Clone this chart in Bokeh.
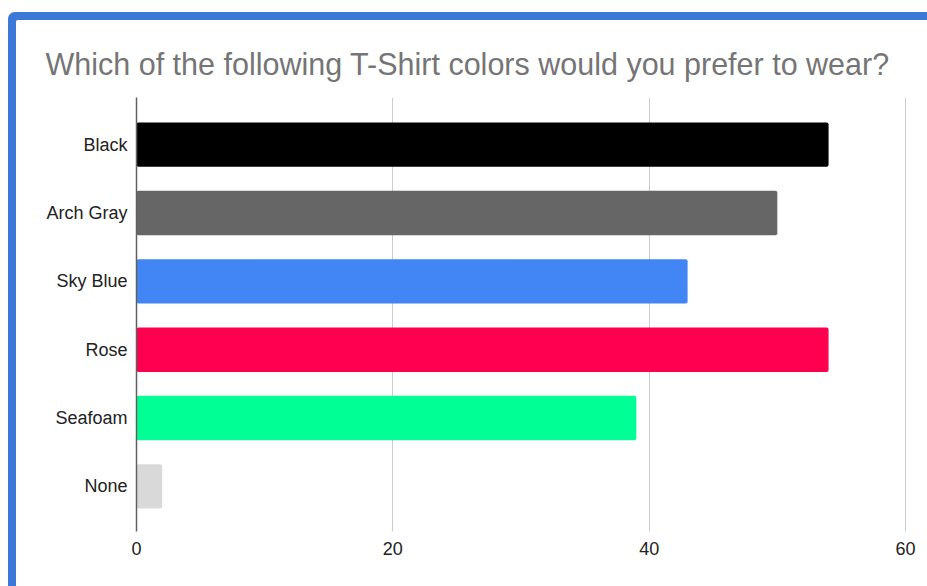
from bokeh.plotting import figure
from bokeh.models import ColumnDataSource, Range1d, FixedTicker
from bokeh.embed import file_html
from bokeh.resources import INLINE

# ---- data ----
title_text = "Which of the following T-Shirt colors would you prefer to wear?"
categories = ["Black", "Arch Gray", "Sky Blue", "Rose", "Seafoam", "None"]
counts = [54, 50, 43, 54, 39, 2]
x_ticks = [0, 20, 40, 60]

# ---- styles ----
bar_colors = ["#000000", "#666666", "#4285f4", "#ff0050", "#00ff94", "#d9d9d9"]
FONT = "Liberation Sans"
BLUE = "#3c78d8"

positions = list(range(len(categories)))
source = ColumnDataSource(data=dict(y=positions, value=counts, color=bar_colors, name=categories))

p = figure(
    width=911, height=566,
    output_backend="svg", toolbar_location=None,
    x_range=Range1d(0, 60.08),
    y_range=Range1d(len(categories) - 1 + 0.66, -0.69),
    min_border_left=120, min_border_right=21,
    min_border_top=77, min_border_bottom=55,
    title=title_text,
)
p.styles = {
    "box-shadow": f"0 0 0 8px {BLUE}",
    "border-top-left-radius": "2px",
    "margin-left": "16px",
    "margin-top": "20px",
}
p.outline_line_color = None
p.background_fill_color = "white"
p.border_fill_color = "white"

p.title.align = "left"
p.title.offset = -91
p.title.text_font = FONT
p.title.text_font_size = "30.5px"
p.title.text_font_style = "normal"
p.title.text_color = "#757575"
p.title.standoff = 33

p.hbar(y="y", left=0, right="value", height=0.65, source=source,
       fill_color="color", line_color=None, border_radius=2)

# x axis
xa = p.xaxis[0]
xa.ticker = FixedTicker(ticks=x_ticks)
xa.axis_line_color = None
xa.major_tick_line_color = None
xa.minor_tick_line_color = None
xa.major_tick_out = 0
xa.major_label_standoff = 10
xa.major_label_text_font = FONT
xa.major_label_text_font_size = "18px"
xa.major_label_text_color = "#222222"

# y axis
ya = p.yaxis[0]
ya.ticker = FixedTicker(ticks=positions)
ya.major_label_overrides = {i: c for i, c in enumerate(categories)}
ya.axis_line_color = "#5f5f5f"
ya.axis_line_width = 1.5
ya.major_tick_line_color = None
ya.minor_tick_line_color = None
ya.major_tick_out = 0
ya.major_label_standoff = 9
ya.major_label_text_font = FONT
ya.major_label_text_font_size = "18px"
ya.major_label_text_color = "#222222"

p.xgrid.grid_line_color = "#cccccc"
p.xgrid.grid_line_width = 1
p.ygrid.grid_line_color = None

open("out.html", "w").write(file_html(p, INLINE))
